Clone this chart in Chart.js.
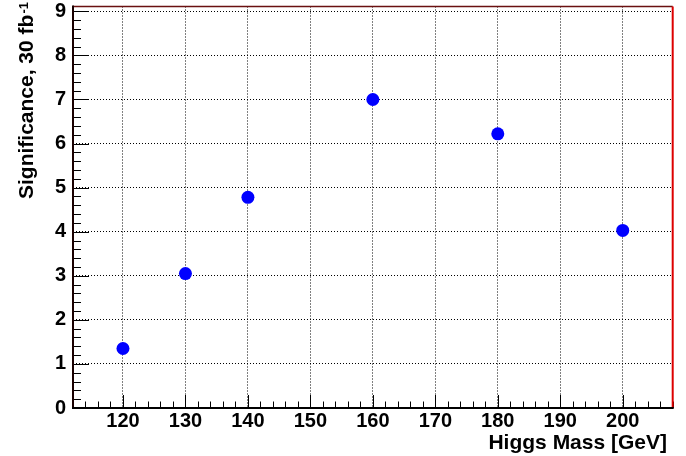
<!DOCTYPE html>
<html>
<head>
<meta charset="utf-8">
<script src="https://cdn.jsdelivr.net/npm/chart.js@4.4.1/dist/chart.umd.min.js"></script>
<style>
  html, body { margin: 0; padding: 0; background: #fff; }
  #wrap { width: 686px; height: 456px; }
</style>
</head>
<body>
<div id="wrap"><canvas id="mainChart" width="686" height="456"></canvas></div>
<script>
// values
const masses = [120, 130, 140, 160, 180, 200];
const significance = [1.35, 3.05, 4.78, 7.0, 6.22, 4.03];
const xTickValues = [120, 130, 140, 150, 160, 170, 180, 190, 200];
const yTickValues = [0, 1, 2, 3, 4, 5, 6, 7, 8, 9];

const xTitle = 'Higgs Mass [GeV]';
const yTitle = 'Significance, 30 fb';
const yTitleSup = '-1';

const FONT = "'Liberation Sans', Arial, Helvetica, sans-serif";

// ROOT style frame: inner ticks (major + minor), frame lines, axis titles
const rootFrame = {
    id: 'rootFrame',
    beforeDatasetsDraw(chart) {
        const ctx = chart.ctx;
        const area = chart.chartArea;
        const xs = chart.scales.x;
        const ys = chart.scales.y;
        ctx.save();
        ctx.strokeStyle = '#000';
        ctx.lineWidth = 1;
        ctx.beginPath();
        // x minor every 2, major every 10
        for (let v = xs.min; v <= xs.max + 1e-6; v += 2) {
            const px = Math.round(xs.getPixelForValue(v)) + 0.5;
            const len = (Math.round(v) % 10 === 0) ? 13 : 6.5;
            ctx.moveTo(px, area.bottom);
            ctx.lineTo(px, area.bottom - len);
        }
        // y minor every 0.2, major every 1
        for (let i = 0; i * 0.2 <= ys.max + 1e-6; i++) {
            const v = i * 0.2;
            const py = Math.round(ys.getPixelForValue(v)) + 0.5;
            const len = (i % 5 === 0) ? 16 : 8;
            ctx.moveTo(area.left, py);
            ctx.lineTo(area.left + len, py);
        }
        ctx.stroke();

        // frame
        ctx.lineWidth = 1.5;
        ctx.strokeStyle = '#6a1010';
        ctx.beginPath();
        ctx.moveTo(area.left, area.top);
        ctx.lineTo(area.right, area.top);
        ctx.stroke();
        ctx.lineWidth = 2;
        ctx.strokeStyle = '#dd0000';
        ctx.beginPath();
        ctx.moveTo(area.right, area.top);
        ctx.lineTo(area.right, area.bottom);
        ctx.stroke();
        ctx.strokeStyle = '#1a0000';
        ctx.beginPath();
        ctx.moveTo(area.left, area.top - 1);
        ctx.lineTo(area.left, area.bottom);
        ctx.stroke();
        ctx.strokeStyle = '#000';
        ctx.beginPath();
        ctx.moveTo(area.left - 1, area.bottom);
        ctx.lineTo(area.right + 1, area.bottom);
        ctx.stroke();
        ctx.restore();
    },
    afterDraw(chart) {
        const ctx = chart.ctx;
        ctx.save();
        ctx.fillStyle = '#000';
        ctx.textBaseline = 'alphabetic';
        ctx.font = 'bold 21px ' + FONT;
        ctx.textAlign = 'right';
        ctx.fillText(xTitle, 667, 449);

        ctx.translate(33, 199);
        ctx.rotate(-Math.PI / 2);
        ctx.textAlign = 'left';
        ctx.fillText(yTitle, 0, 0);
        const w = ctx.measureText(yTitle).width;
        ctx.font = 'bold 13px ' + FONT;
        ctx.fillText(yTitleSup, w + 1, -5);
        ctx.restore();
    }
};

function plotSignificance() {
    const ctx = document.getElementById('mainChart').getContext('2d');
    const points = masses.map((m, i) => ({x: m, y: significance[i]}));
    const tickFont = {family: FONT, size: 20, weight: 'bold'};

    window.myChart = new Chart(ctx, {
        type: 'scatter',
        data: {
            datasets: [{
                label: 'Significance',
                data: points,
                backgroundColor: '#0000ff',
                borderColor: '#0000ff',
                borderWidth: 0,
                pointRadius: 6.5,
                pointHoverRadius: 6.5
            }]
        },
        options: {
            responsive: false,
            animation: false,
            layout: {padding: {top: 2.5, right: 13.3, left: 0, bottom: 0}},
            plugins: {
                legend: {display: false},
                tooltip: {enabled: false}
            },
            scales: {
                x: {
                    type: 'linear',
                    min: 112,
                    max: 208,
                    afterBuildTicks: s => { s.ticks = xTickValues.map(v => ({value: v})); },
                    afterFit: s => { s.height = 48; s.paddingLeft = 0; s.paddingRight = 0; },
                    grid: {color: '#000', lineWidth: 1, drawTicks: false},
                    border: {display: false, dash: [1, 2]},
                    ticks: {font: tickFont, color: '#000', padding: 1, maxRotation: 0, autoSkip: false}
                },
                y: {
                    type: 'linear',
                    min: 0,
                    max: 9.11,
                    afterBuildTicks: s => { s.ticks = yTickValues.map(v => ({value: v})); },
                    afterFit: s => { s.width = 73; s.paddingTop = 0; s.paddingBottom = 0; },
                    grid: {color: '#000', lineWidth: 1, drawTicks: false},
                    border: {display: false, dash: [1, 2]},
                    ticks: {font: tickFont, color: '#000', padding: 7, autoSkip: false}
                }
            }
        },
        plugins: [rootFrame]
    });
}
document.addEventListener('DOMContentLoaded', plotSignificance);
</script>
</body>
</html>
